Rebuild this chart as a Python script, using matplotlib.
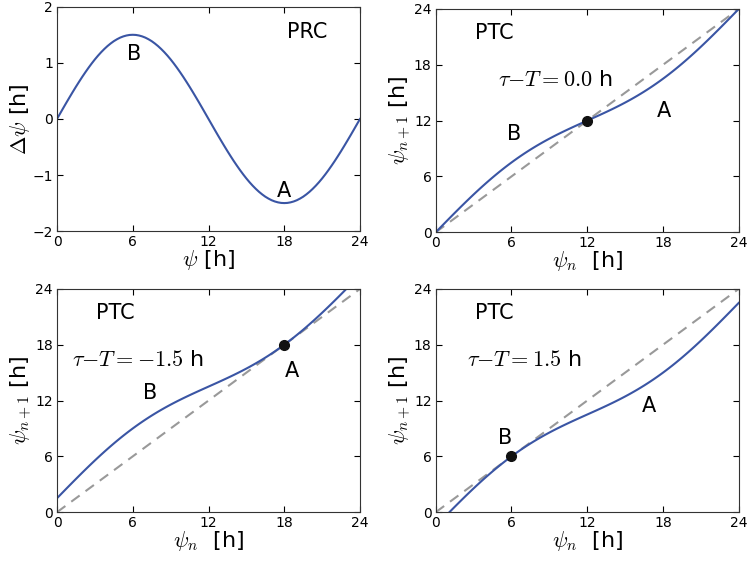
import numpy as np
import matplotlib
matplotlib.use("Agg")
import matplotlib.pyplot as plt

plt.rcParams['mathtext.fontset'] = 'cm'
plt.rcParams['font.family'] = 'DejaVu Sans'

# phase (h), quarter-hour steps
psi = np.arange(0, 24.25, 0.25)
# phase response curve, first half day 0..11.75 h
prc_half = [0, 0.098, 0.196, 0.293, 0.388, 0.482, 0.574, 0.663, 0.750, 0.833, 0.913, 0.989,
            1.061, 1.128, 1.190, 1.247, 1.299, 1.345, 1.386, 1.420, 1.449, 1.471, 1.487, 1.497,
            1.500, 1.497, 1.487, 1.471, 1.449, 1.420, 1.386, 1.345, 1.299, 1.247, 1.190, 1.128,
            1.061, 0.989, 0.913, 0.833, 0.750, 0.663, 0.574, 0.482, 0.388, 0.293, 0.196, 0.098]
# second half day is the mirror image below zero
dpsi = np.array(prc_half + [0] + [-v for v in prc_half[1:]] + [0])

# period mismatch of the three PTC panels (h)
tau_minus_T = [0.0, -1.5, 1.5]
tau_text = ['0.0', '{-}1.5', '1.5']
fixed_pts = [12, 18, 6]

line_col = '#3a55a4'
ticks = [0, 6, 12, 18, 24]

fig = plt.figure(figsize=(7.5, 5.61), dpi=100)
pos = [[0.076, 0.588, 0.404, 0.400],
       [0.581, 0.586, 0.404, 0.398],
       [0.076, 0.087, 0.404, 0.398],
       [0.581, 0.087, 0.404, 0.398]]
axs = [fig.add_axes(p) for p in pos]

for ax in axs:
    ax.tick_params(direction='in', top=True, right=True, length=4,
                   labelsize=10, pad=3)
    for s in ax.spines.values():
        s.set_color('#333333')
    ax.set_xlim(0, 24)
    ax.set_xticks(ticks)

# PRC
ax = axs[0]
ax.plot(psi, dpsi, color=line_col, lw=1.5)
ax.set_ylim(-2, 2)
ax.set_yticks([-2, -1, 0, 1, 2])
ax.set_xlabel(r'$\psi$ [h]', fontsize=16, labelpad=-1)
ax.set_ylabel(r'$\Delta\psi$ [h]', fontsize=16, labelpad=0)
ax.text(19.8, 1.55, 'PRC', fontsize=15, ha='center', va='center')
ax.text(6.1, 1.15, 'B', fontsize=15, ha='center', va='center')
ax.text(18.0, -1.28, 'A', fontsize=15, ha='center', va='center')

# PTC panels
labels_B = [(6.2, 10.55), (7.4, 12.86), (5.5, 7.96)]
labels_A = [(18.1, 13.0), (18.6, 15.17), (16.85, 11.46)]
tau_x = [4.9, 1.2, 2.5]
for k, ax in enumerate(axs[1:]):
    psi_next = psi + dpsi - tau_minus_T[k]
    ax.plot([0, 24], [0, 24], '--', color='#999999', lw=1.5, dashes=(5, 3.5))
    ax.plot(psi, psi_next, color=line_col, lw=1.5)
    ax.plot(fixed_pts[k], fixed_pts[k], 'o', color='#111111', ms=7, zorder=5)
    ax.set_ylim(0, 24)
    ax.set_yticks(ticks)
    ax.set_xlabel(r'$\psi_n$  [h]', fontsize=16, labelpad=-1)
    ax.set_ylabel(r'$\psi_{n+1}$ [h]', fontsize=16, labelpad=0)
    ax.text(4.6, 21.4, 'PTC', fontsize=15, ha='center', va='center')
    ax.text(tau_x[k], 16.4, r'$\tau{-}T=%s$ h' % tau_text[k],
            fontsize=16, ha='left', va='center')
    ax.text(*labels_B[k], 'B', fontsize=15, ha='center', va='center')
    ax.text(*labels_A[k], 'A', fontsize=15, ha='center', va='center')

fig.savefig('out.png', dpi=100)
